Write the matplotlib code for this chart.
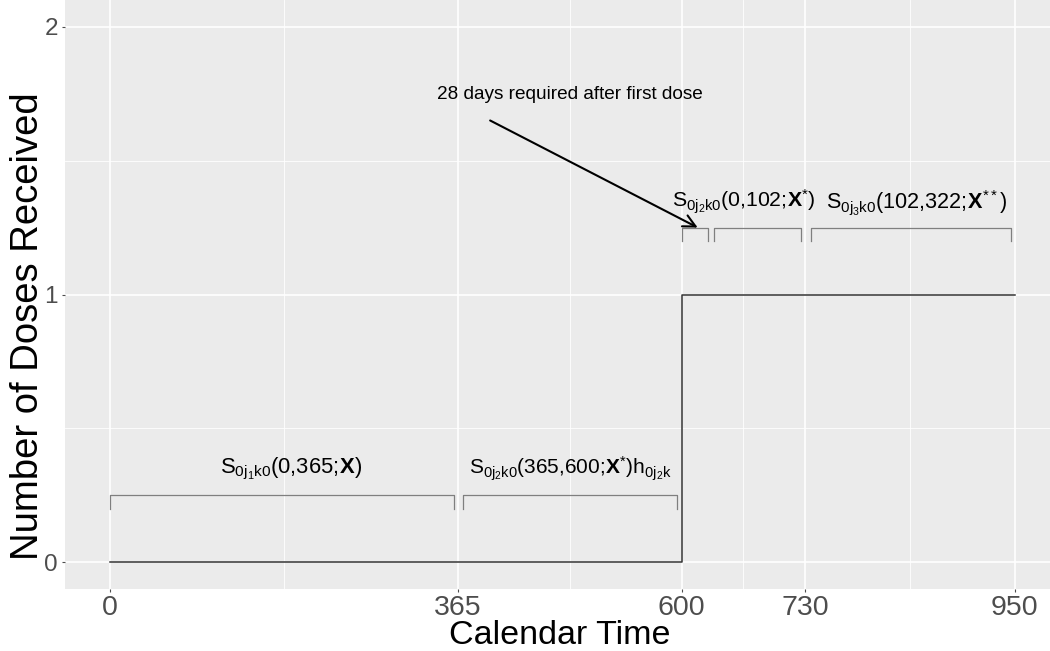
import numpy as np
import matplotlib
matplotlib.use("Agg")
import matplotlib.pyplot as plt

plt.rcParams["font.family"] = ["Liberation Sans", "DejaVu Sans"]
plt.rcParams["mathtext.fontset"] = "custom"
plt.rcParams["mathtext.rm"] = "Liberation Sans"
plt.rcParams["mathtext.it"] = "Liberation Sans:italic"
plt.rcParams["mathtext.bf"] = "Liberation Sans:bold"

# dose history (step function)
time_pts = [0, 600, 950]
doses = [0, 1, 1]

x_ticks = [0, 365, 600, 730, 950]
x_minor = [182.5, 482.5, 665, 840]
y_ticks = [0, 1, 2]
y_minor = [0.5, 1.5]

# interval brackets: start, end, level
bracket_start = [0, 370, 600, 634, 736]
bracket_end = [361, 595, 628, 726, 946]
bracket_level = [0.25, 0.25, 1.25, 1.25, 1.25]
bracket_drop = 0.05

# interval labels
label_x = [190, 483, 665, 847]
label_y = [0.35, 0.35, 1.345, 1.345]
label_text = [
    r"$\mathrm{S}_{0\mathrm{j}_1\mathrm{k}0}(0{,}365;\!\mathbf{X})$",
    r"$\mathrm{S}_{0\mathrm{j}_2\mathrm{k}0}(365{,}600;\!\mathbf{X}^{*})\mathrm{h}_{0\mathrm{j}_2\mathrm{k}}$",
    r"$\mathrm{S}_{0\mathrm{j}_2\mathrm{k}0}(0{,}102;\!\mathbf{X}^{*})$",
    r"$\mathrm{S}_{0\mathrm{j}_3\mathrm{k}0}(102{,}322;\!\mathbf{X}^{**})$",
]
label_size = [15.8, 15.0, 15.3, 15.6]

note_text = "28 days required after first dose"
note_xy = (483, 1.748)
arrow_tail = (399, 1.65)
arrow_head = (617, 1.25)

W, H = 1050, 651
fig = plt.figure(figsize=(W / 100, H / 100), dpi=100)
ax = fig.add_axes([65 / W, 1 - 589 / H, (W - 65) / W, 589 / H])
ax.set_facecolor("#EBEBEB")
ax.set_xlim(-47.5, 987)
ax.set_ylim(-0.1, 2.1)

for v in x_ticks:
    ax.axvline(v, color="white", lw=1.2, zorder=0)
for v in x_minor:
    ax.axvline(v, color="white", lw=0.6, zorder=0)
for v in y_ticks:
    ax.axhline(v, color="white", lw=1.2, zorder=0)
for v in y_minor:
    ax.axhline(v, color="white", lw=0.6, zorder=0)

ax.step(time_pts, doses, where="post", color="#333333", lw=1.1, zorder=2)

for s, e, lv in zip(bracket_start, bracket_end, bracket_level):
    ax.plot([s, s, e, e], [lv - bracket_drop, lv, lv, lv - bracket_drop],
            color="#7F7F7F", lw=0.9, zorder=2)

for lx, ly, t, fs in zip(label_x, label_y, label_text, label_size):
    ax.text(lx, ly, t, ha="center", va="center", fontsize=fs, color="black")

ax.text(note_xy[0], note_xy[1], note_text, ha="center", va="center",
        fontsize=13.7, color="black")
ax.annotate("", xy=arrow_head, xytext=arrow_tail,
            arrowprops=dict(arrowstyle="->", color="black", lw=1.5,
                            mutation_scale=22, shrinkA=0, shrinkB=0))

ax.set_xticks(x_ticks)
ax.set_yticks(y_ticks)
ax.tick_params(axis="both", length=2.5, width=0.8, color="#4D4D4D",
               labelcolor="#4D4D4D", pad=1.5)
ax.tick_params(axis="x", labelsize=20.5)
ax.tick_params(axis="y", labelsize=17.5, pad=2.5)
for sp in ax.spines.values():
    sp.set_visible(False)

# axis titles placed in figure pixels
fig.text(560 / W, 1 - 635 / H, "Calendar Time", ha="center", va="center",
         fontsize=24.5, color="black")
fig.text(28 / W, 1 - 326 / H, "Number of Doses Received", ha="center",
         va="center", rotation=90, fontsize=27.5, color="black")

fig.savefig("out.png", dpi=100)
